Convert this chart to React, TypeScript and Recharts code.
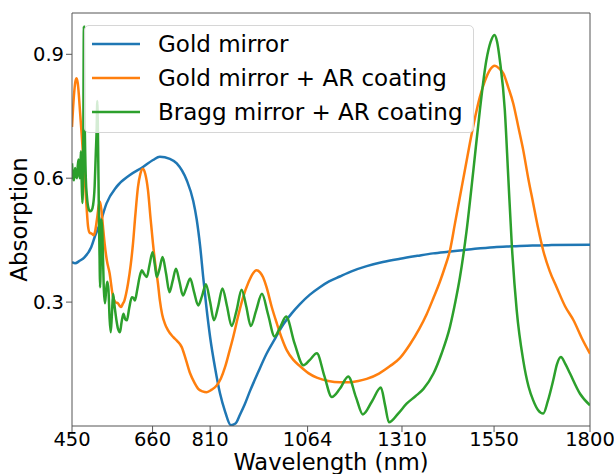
import React from 'react';
import { LineChart, Line, XAxis, YAxis, ReferenceLine, Legend } from 'recharts';

const wavelengthTicks = [450, 660, 810, 1064, 1310, 1550, 1800];
const absorptionTicks = [0.3, 0.6, 0.9];
const seriesNames = ['Gold mirror', 'Gold mirror + AR coating', 'Bragg mirror + AR coating'];
const seriesColors = ['#1f77b4', '#ff7f0e', '#2ca02c'];

const goldMirror: [number, number][] = [
  [450, 0.397], [458, 0.394], [470, 0.4], [483, 0.409], [500, 0.433], [510, 0.46], [523, 0.49], [540, 0.539],
  [566, 0.579], [600, 0.607], [635, 0.627], [661, 0.644], [679, 0.652], [705, 0.647], [723, 0.636], [749, 0.595],
  [766, 0.545], [775, 0.5], [784, 0.435], [792, 0.36], [800, 0.29], [810, 0.215], [823, 0.14], [836, 0.078],
  [849, 0.035], [864, 0.002], [876, 0.006], [888, 0.028], [900, 0.052], [914, 0.085], [935, 0.13], [957, 0.175],
  [980, 0.213], [1000, 0.245], [1022, 0.272], [1044, 0.295], [1070, 0.318], [1096, 0.336], [1120, 0.35],
  [1148, 0.362], [1180, 0.375], [1218, 0.387], [1260, 0.397], [1305, 0.405], [1350, 0.412], [1391, 0.418],
  [1430, 0.422], [1461, 0.425], [1500, 0.429], [1550, 0.433], [1600, 0.435], [1650, 0.437], [1700, 0.438],
  [1800, 0.439],
];

const goldMirrorAR: [number, number][] = [
  [450, 0.724], [455, 0.8], [459, 0.835], [462, 0.842], [465, 0.83], [468, 0.8], [471, 0.76], [475, 0.709],
  [480, 0.64], [484, 0.588], [488, 0.53], [492, 0.482], [496, 0.468], [501, 0.466], [506, 0.462], [510, 0.47],
  [515, 0.5], [520, 0.535], [523, 0.543], [527, 0.52], [531, 0.48], [535, 0.442], [541, 0.4], [548, 0.37],
  [557, 0.312], [563, 0.3], [570, 0.297], [575, 0.29], [578, 0.288], [582, 0.295], [587, 0.305], [591, 0.32],
  [596, 0.345], [603, 0.39], [609, 0.442], [615, 0.51], [622, 0.579], [628, 0.61], [635, 0.623], [641, 0.61],
  [648, 0.571], [655, 0.5], [661, 0.442], [668, 0.385], [674, 0.345], [679, 0.304], [685, 0.27], [692, 0.248],
  [700, 0.232], [714, 0.215], [725, 0.205], [736, 0.191], [747, 0.16], [758, 0.127], [769, 0.105], [779, 0.09],
  [790, 0.084], [801, 0.082], [814, 0.088], [827, 0.098], [838, 0.115], [849, 0.143], [860, 0.18], [870, 0.215],
  [884, 0.27], [896, 0.312], [910, 0.348], [922, 0.37], [931, 0.377], [940, 0.372], [948, 0.36], [957, 0.336],
  [970, 0.29], [984, 0.248], [997, 0.212], [1010, 0.183], [1027, 0.16], [1044, 0.145], [1066, 0.128],
  [1088, 0.117], [1118, 0.109], [1148, 0.106], [1174, 0.106], [1196, 0.109], [1218, 0.114], [1250, 0.127],
  [1279, 0.145], [1305, 0.165], [1331, 0.198], [1355, 0.235], [1374, 0.27], [1392, 0.31], [1409, 0.35],
  [1422, 0.385], [1435, 0.425], [1448, 0.49], [1461, 0.555], [1474, 0.62], [1487, 0.685], [1500, 0.745],
  [1513, 0.797], [1526, 0.835], [1539, 0.862], [1552, 0.872], [1563, 0.866], [1574, 0.854], [1587, 0.82],
  [1600, 0.781], [1613, 0.725], [1626, 0.668], [1639, 0.6], [1652, 0.539], [1665, 0.478], [1678, 0.425],
  [1695, 0.375], [1713, 0.336], [1735, 0.29], [1757, 0.256], [1780, 0.21], [1800, 0.175],
];

const braggMirrorAR: [number, number][] = [
  [450, 0.636], [453, 0.6], [455, 0.595], [458, 0.625], [460, 0.61], [463, 0.6], [465, 0.63], [467, 0.645],
  [469, 0.61], [471, 0.6], [473, 0.665], [475, 0.6], [477, 0.54], [479, 0.62], [481, 0.967], [483, 0.75],
  [486, 0.6], [489, 0.555], [493, 0.527], [497, 0.52], [501, 0.522], [505, 0.535], [509, 0.58], [512, 0.66],
  [514, 0.71], [516, 0.787], [518, 0.68], [520, 0.52], [522, 0.4], [523, 0.336], [525, 0.4], [527, 0.5],
  [529, 0.47], [531, 0.4], [533, 0.33], [536, 0.297], [539, 0.33], [542, 0.349], [545, 0.33], [548, 0.26],
  [551, 0.227], [554, 0.27], [557, 0.32], [561, 0.29], [566, 0.255], [570, 0.235], [575, 0.227], [579, 0.25],
  [584, 0.272], [589, 0.258], [593, 0.256], [599, 0.285], [606, 0.312], [610, 0.31], [614, 0.304], [620, 0.33],
  [626, 0.36], [632, 0.377], [638, 0.368], [645, 0.361], [652, 0.39], [660, 0.421], [666, 0.39], [671, 0.361],
  [678, 0.38], [686, 0.409], [695, 0.37], [704, 0.324], [712, 0.35], [721, 0.381], [730, 0.35], [739, 0.316],
  [748, 0.335], [758, 0.357], [768, 0.325], [779, 0.292], [789, 0.315], [799, 0.343], [810, 0.3], [820, 0.256],
  [831, 0.29], [842, 0.333], [854, 0.29], [866, 0.242], [879, 0.28], [892, 0.33], [904, 0.29], [916, 0.242],
  [930, 0.28], [945, 0.32], [961, 0.27], [978, 0.217], [993, 0.24], [1008, 0.265], [1030, 0.2], [1053, 0.147],
  [1070, 0.16], [1088, 0.176], [1108, 0.12], [1127, 0.07], [1148, 0.09], [1170, 0.12], [1190, 0.07],
  [1208, 0.028], [1232, 0.06], [1255, 0.093], [1266, 0.05], [1276, 0.009], [1300, 0.03], [1322, 0.054],
  [1345, 0.072], [1366, 0.09], [1392, 0.127], [1413, 0.175], [1435, 0.24], [1449, 0.3], [1461, 0.36],
  [1478, 0.47], [1496, 0.619], [1513, 0.765], [1530, 0.886], [1541, 0.93], [1551, 0.947], [1558, 0.93],
  [1565, 0.886], [1578, 0.765], [1587, 0.603], [1596, 0.442], [1609, 0.28], [1626, 0.159], [1640, 0.095],
  [1652, 0.062], [1665, 0.038], [1678, 0.03], [1690, 0.06], [1704, 0.11], [1714, 0.15], [1724, 0.167],
  [1736, 0.15], [1748, 0.127], [1774, 0.078], [1800, 0.05],
];

const toRows = (pairs: [number, number][]) => pairs.map(([x, y]) => ({ x, y }));
const seriesData = [toRows(goldMirror), toRows(goldMirrorAR), toRows(braggMirrorAR)];

const FONT = 'DejaVu Sans';
const FRAME = '#555';

const LegendBox = () => (
  <div
    style={{
      position: 'relative',
      boxSizing: 'border-box',
      width: 390,
      height: 108,
      border: '1px solid #d6d6d6',
      borderRadius: 5,
      background: 'rgba(255,255,255,0.8)',
      fontFamily: FONT,
      fontSize: 23,
      color: '#000',
    }}
  >
    {seriesNames.map((name, i) => (
      <div
        key={name}
        style={{
          position: 'absolute',
          left: 7,
          top: 18 + i * 34.2 - 15,
          height: 30,
          display: 'flex',
          alignItems: 'center',
          whiteSpace: 'nowrap',
        }}
      >
        <svg width={48} height={6} style={{ display: 'block' }}>
          <line x1={0} y1={3} x2={48} y2={3} stroke={seriesColors[i]} strokeWidth={2.5} />
        </svg>
        <span style={{ marginLeft: 18, lineHeight: '30px' }}>{name}</span>
      </div>
    ))}
  </div>
);

export default function App() {
  return (
    <div style={{ position: 'absolute', left: 0, top: 0, width: 614, height: 474, background: '#fff', fontFamily: FONT }}>
      <LineChart width={614} height={474} margin={{ top: 13, right: 24, bottom: 0, left: 0 }}>
        <XAxis
          type="number"
          dataKey="x"
          domain={[450, 1800]}
          ticks={wavelengthTicks}
          interval={0}
          height={48}
          allowDataOverflow
          stroke={FRAME}
          tickSize={6}
          tickMargin={0}
          tick={{ fill: '#000', fontSize: 19.5, fontFamily: FONT }}
          tickLine={{ stroke: FRAME }}
          axisLine={{ stroke: FRAME }}
          label={{
            content: () => (
              <text x={331} y={470} textAnchor="middle" fontFamily={FONT} fontSize={22.6} fill="#000">
                Wavelength (nm)
              </text>
            ),
          }}
        />
        <YAxis
          type="number"
          domain={[0, 1]}
          ticks={absorptionTicks}
          interval={0}
          width={72}
          allowDataOverflow
          stroke={FRAME}
          tickSize={6}
          tickMargin={2}
          tickFormatter={(v: number) => v.toFixed(1)}
          tick={{ fill: '#000', fontSize: 19.5, fontFamily: FONT }}
          tickLine={{ stroke: FRAME }}
          axisLine={{ stroke: FRAME }}
          label={{
            content: () => (
              <text
                x={27}
                y={219.5}
                transform="rotate(-90 27 219.5)"
                textAnchor="middle"
                fontFamily={FONT}
                fontSize={23}
                fill="#000"
              >
                Absorption
              </text>
            ),
          }}
        />
        <ReferenceLine y={1} stroke={FRAME} strokeWidth={1} />
        <ReferenceLine x={1800} stroke={FRAME} strokeWidth={1} />
        {seriesData.map((rows, i) => (
          <Line
            key={seriesNames[i]}
            data={rows}
            dataKey="y"
            name={seriesNames[i]}
            type="monotone"
            stroke={seriesColors[i]}
            strokeWidth={2.5}
            dot={false}
            activeDot={false}
            isAnimationActive={false}
          />
        ))}
        <Legend
          layout="vertical"
          align="center"
          verticalAlign="middle"
          wrapperStyle={{ left: 84, top: 25, width: 390, height: 108 }}
          content={() => <LegendBox />}
        />
      </LineChart>
    </div>
  );
}
